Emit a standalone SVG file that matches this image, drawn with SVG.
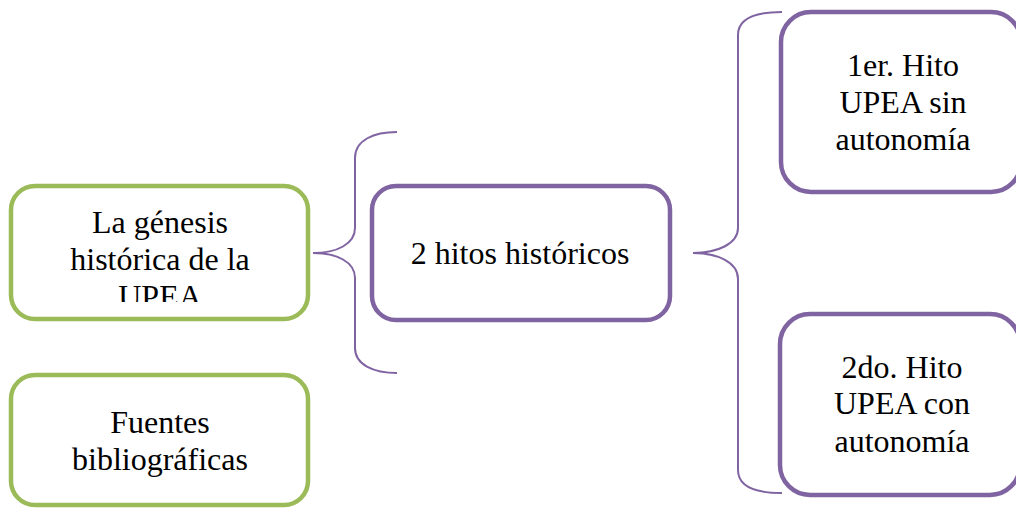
<svg xmlns="http://www.w3.org/2000/svg" width="1016" height="508" viewBox="0 0 1016 508">
<style>
.box{fill:#fff;stroke-width:4.5}
.g{stroke:#9BBB59}
.p{stroke:#8064A2}
.br{fill:none;stroke:#8064A2;stroke-width:2}
text{font-family:"Liberation Serif","Times New Roman",serif;font-size:32px;fill:#000;text-anchor:middle}
</style>
<defs>
<clipPath id="c1"><rect x="14" y="189" width="292" height="113"/></clipPath>
</defs>
<rect width="1016" height="508" fill="#fff"/>
<g id="connectors">
<path class="br" d="M397,132 C374,132 355,140 355,158 L355,228 C355,244 337,253 313,253 C337,253 355,262 355,278 L355,348 C355,365 374,373 397,373"/>
<path class="br" d="M782,12 C757,12 738,18 738,35 L738,228 C738,244 717,253 693,253 C717,253 738,262 738,279 L738,470 C738,487 757,493 782,493"/>
</g>
<g id="n1">
<rect class="box g" x="11" y="186" width="297" height="133" rx="24"/>
<g clip-path="url(#c1)">
<text x="160" y="233">La génesis</text>
<text x="160" y="270">histórica de la</text>
<text x="160" y="307">UPEA</text>
</g>
</g>
<g id="n2">
<rect class="box g" x="11" y="375" width="297" height="130" rx="24"/>
<text x="160" y="433">Fuentes</text>
<text x="160" y="470">bibliográficas</text>
</g>
<g id="n3">
<rect class="box p" x="372" y="186" width="298" height="134" rx="24"/>
<text x="520" y="264">2 hitos históricos</text>
</g>
<g id="n4">
<rect class="box p" x="781" y="12" width="240" height="180" rx="30"/>
<text x="903" y="76">1er. Hito</text>
<text x="903" y="113">UPEA sin</text>
<text x="903" y="150">autonomía</text>
</g>
<g id="n5">
<rect class="box p" x="780" y="314" width="240" height="181" rx="30"/>
<text x="902" y="378">2do. Hito</text>
<text x="902" y="414">UPEA con</text>
<text x="902" y="452">autonomía</text>
</g>
</svg>
